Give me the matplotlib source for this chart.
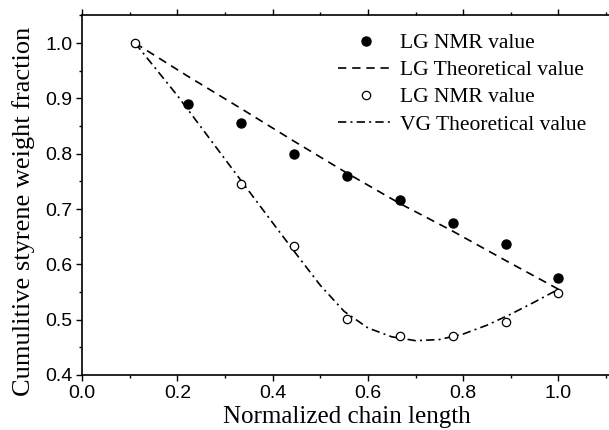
import matplotlib
matplotlib.use('Agg')
import matplotlib.pyplot as plt
from matplotlib.ticker import MultipleLocator

# LG NMR (filled)
lg_x = [0.222, 0.333, 0.444, 0.556, 0.667, 0.778, 0.889, 1.0]
lg_y = [0.890, 0.855, 0.799, 0.760, 0.716, 0.675, 0.636, 0.576]

# second NMR series (open)
vg_x = [0.111, 0.333, 0.444, 0.556, 0.667, 0.778, 0.889, 1.0]
vg_y = [1.000, 0.746, 0.633, 0.502, 0.471, 0.471, 0.496, 0.549]

# LG theoretical (dashed)
lgt_x = [0.111, 0.222, 0.333, 0.444, 0.556, 0.667, 0.778, 0.889, 1.0]
lgt_y = [1.000, 0.940, 0.882, 0.823, 0.765, 0.710, 0.660, 0.607, 0.555]

# VG theoretical (dash-dot)
vgt_x = [0.111, 0.2, 0.3, 0.4, 0.45, 0.5, 0.55, 0.6, 0.65, 0.7, 0.75, 0.8, 0.85, 0.9, 0.95, 1.0]
vgt_y = [1.000, 0.905, 0.790, 0.675, 0.618, 0.562, 0.515, 0.485, 0.469, 0.462, 0.464, 0.474, 0.490, 0.510, 0.532, 0.555]

serif = ['Liberation Serif', 'DejaVu Serif']
sans = ['Liberation Sans', 'DejaVu Sans']

fig = plt.figure(figsize=(6.09, 4.30), dpi=100)
ax = fig.add_axes([0.135, 0.128, 0.868, 0.836])

ax.plot(lg_x, lg_y, 'o', color='black', markersize=6.5, label='LG NMR value', zorder=3)
ax.plot(lgt_x, lgt_y, color='black', lw=1.2, dashes=(5, 3.5), label='LG Theoretical value')
ax.plot(vg_x, vg_y, 'o', mfc='white', mec='black', mew=0.9, markersize=6, label='LG NMR value', zorder=3)
ax.plot(vgt_x, vgt_y, color='black', lw=1.2, dashes=(5, 2.5, 1.2, 2.5), label='VG Theoretical value')

ax.set_xlim(0, 1.11)
ax.set_ylim(0.4, 1.05)
ax.xaxis.set_major_locator(MultipleLocator(0.2))
ax.xaxis.set_minor_locator(MultipleLocator(0.1))
ax.yaxis.set_major_locator(MultipleLocator(0.1))
ax.yaxis.set_minor_locator(MultipleLocator(0.05))
ax.tick_params(which='both', direction='out', top=True, width=1, labelsize=14, pad=3)
ax.tick_params(which='major', length=4)
ax.tick_params(which='minor', length=2.5)
ax.tick_params(axis='x', which='both', top=True, labeltop=False)
ax.xaxis.set_major_formatter(plt.FormatStrFormatter('%.1f'))
ax.yaxis.set_major_formatter(plt.FormatStrFormatter('%.1f'))
for lab in ax.get_xticklabels() + ax.get_yticklabels():
    lab.set_family(sans)
for s in ax.spines.values():
    s.set_linewidth(1.2)

ax.set_xlabel('Normalized chain length', family=serif, fontsize=18, labelpad=3)
ax.set_ylabel('Cumulitive styrene weight fraction', family=serif, fontsize=19)
ax.yaxis.set_label_coords(-0.09, 0.454)

leg = ax.legend(loc='upper left', bbox_to_anchor=(338 / 609, 1 - 33 / 430), bbox_transform=fig.transFigure,
                frameon=False, prop={'family': serif, 'size': 15.5}, handlelength=2.6,
                handletextpad=0.3, labelspacing=0.33, borderpad=0, borderaxespad=0)

plt.savefig('out.png', dpi=100)
